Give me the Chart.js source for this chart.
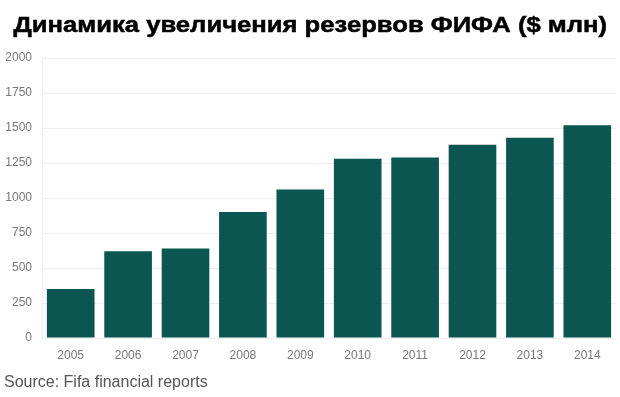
<!DOCTYPE html>
<html>
<head>
<meta charset="utf-8">
<script src="https://cdn.jsdelivr.net/npm/chart.js@4/dist/chart.umd.min.js"></script>
<style>
html,body{margin:0;padding:0;background:#fff;}
#wrap{position:relative;width:620px;height:397px;overflow:hidden;}
#title{position:absolute;left:0;top:12px;width:620px;text-align:center;font-family:"Liberation Sans",Arial,sans-serif;font-weight:bold;font-size:22px;color:#000;white-space:nowrap;transform:scaleX(1.165);transform-origin:308px 0;-webkit-text-stroke:0.5px #000;}
#source{position:absolute;left:4px;top:373px;font-family:"Liberation Sans",Arial,sans-serif;font-size:16px;color:#555;white-space:nowrap;}
canvas{position:absolute;left:0;top:0;}
</style>
</head>
<body>
<div id="wrap">
<canvas id="c" width="620" height="397"></canvas>
<div id="title">Динамика увеличения резервов ФИФА ($ млн)</div>
<div id="source">Source: Fifa financial reports</div>
</div>
<script>
const years = ["2005","2006","2007","2008","2009","2010","2011","2012","2013","2014"];
const reserves = [350, 620, 640, 900, 1060, 1280, 1290, 1380, 1430, 1520];
const yTicks = [0, 250, 500, 750, 1000, 1250, 1500, 1750, 2000];

new Chart(document.getElementById('c'), {
  type: 'bar',
  data: {
    labels: years,
    datasets: [{
      data: reserves,
      backgroundColor: '#0b5651',
      borderWidth: 0,
      categoryPercentage: 1.0,
      barPercentage: 0.83
    }]
  },
  options: {
    responsive: false,
    animation: false,
    layout: {padding: {left: 0, right: 4, top: 58, bottom: 29}},
    plugins: {legend: {display: false}, tooltip: {enabled: false}, title: {display: false}},
    scales: {
      x: {
        grid: {display: false},
        border: {color: '#eeeeee'},
        ticks: {color: '#777', font: {family: 'Liberation Sans, Arial, sans-serif', size: 12}, padding: 2, maxRotation: 0},
        afterFit: s => { s.height = 30; }
      },
      y: {
        min: 0, max: 2000,
        afterBuildTicks: s => { s.ticks = yTicks.map(v => ({value: v})); },
        grid: {color: '#eeeeee', drawTicks: false},
        border: {color: '#eeeeee'},
        ticks: {color: '#777', font: {family: 'Liberation Sans, Arial, sans-serif', size: 12}, padding: 10, callback: v => String(v)},
        afterFit: s => { s.width = 42; }
      }
    }
  }
});
</script>
</body>
</html>
